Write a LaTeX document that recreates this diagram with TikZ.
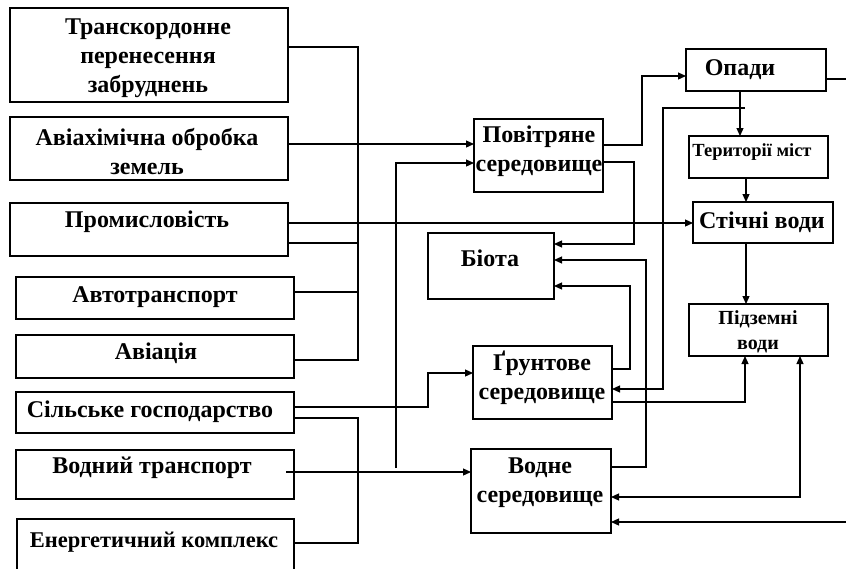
\documentclass[tikz,border=0pt]{standalone}
\usepackage{fontspec}
\setmainfont{Liberation Serif}
\usetikzlibrary{arrows.meta}

\begin{document}
\begin{tikzpicture}[x=1pt, y=-1pt,
    box/.style={draw, line width=1.6pt, inner sep=0pt, outer sep=0pt},
    txt/.style={font=\bfseries\fontsize{24}{29}\selectfont, align=center, inner sep=0pt},
    smalltxt/.style={font=\bfseries\fontsize{20}{25}\selectfont, align=center, inner sep=0pt},
    line/.style={line width=1.2pt},
    arr/.style={line width=1.2pt, -{Triangle[length=8pt,width=7pt]}},
    arrboth/.style={line width=1.2pt, {Triangle[length=8pt,width=7pt]}-{Triangle[length=8pt,width=7pt]}}]
    \useasboundingbox (0,0) rectangle (846,568);

    % Sources (left column)
    \node[box, minimum width=278pt, minimum height=94pt] (trans) at (149,55) {};
    \node[box, minimum width=278pt, minimum height=63pt] (aviachem) at (149,148.5) {};
    \node[box, minimum width=278pt, minimum height=53pt] (prom) at (149,229.5) {};
    \node[box, minimum width=278pt, minimum height=42pt] (avto) at (155,298) {};
    \node[box, minimum width=278pt, minimum height=43pt] (aviat) at (155,356.5) {};
    \node[box, minimum width=278pt, minimum height=41pt] (silske) at (155,412.5) {};
    \node[box, minimum width=278pt, minimum height=49pt] (vodtr) at (155,474.5) {};
    \node[box, minimum width=277pt, minimum height=51pt] (energ) at (155.5,544.5) {};

    \node[txt] (transT) at (148,58) {Транскордонне\\перенесення\\забруднень};
    \node[txt] (aviachemT) at (147,152) {Авіахімічна обробка\\земель};
    \node[txt] (promT) at (147,222) {Промисловість};
    \node[txt] (avtoT) at (155,297) {Автотранспорт};
    \node[txt] (aviatT) at (156,353) {Авіація};
    \node[txt] (silskeT) at (150,412) {Сільське господарство};
    \node[txt] (vodtrT) at (152,468) {Водний транспорт};
    \node[txt, font=\bfseries\fontsize{22.5}{27}\selectfont] (energT) at (154,542) {Енергетичний комплекс};

    % Environments (middle column)
    \node[box, minimum width=129pt, minimum height=73pt] (povitria) at (538.5,155.5) {};
    \node[box, minimum width=126pt, minimum height=66pt] (biota) at (491,266) {};
    \node[box, minimum width=139pt, minimum height=73pt] (gruntove) at (542.5,382.5) {};
    \node[box, minimum width=140pt, minimum height=84pt] (vodne) at (541,491) {};

    \node[txt] (povitriaT) at (539,151) {Повітряне\\середовище};
    \node[txt] (biotaT) at (490,258) {Біота};
    \node[txt] (gruntoveT) at (542,378) {Ґрунтове\\середовище};
    \node[txt] (vodneT) at (540,483) {Водне\\середовище};

    % Water chain (right column)
    \node[box, minimum width=140pt, minimum height=42pt] (opady) at (756,70) {};
    \node[box, minimum width=139pt, minimum height=42pt] (teryt) at (758.5,157) {};
    \node[box, minimum width=140pt, minimum height=41pt] (stichni) at (763,222.5) {};
    \node[box, minimum width=139pt, minimum height=52pt] (pidzem) at (758.5,330) {};

    \node[txt] (opadyT) at (740,70) {Опади};
    \node[font=\bfseries\fontsize{18.5}{20}\selectfont, inner sep=0pt] (terytT) at (752,152) {Території міст};
    \node[txt] (stichniT) at (762,222) {Стічні води};
    \node[smalltxt] (pidzemT) at (758,332) {Підземні\\води};

    % Collecting line of the sources
    \coordinate (busS) at (358,360);
    \draw[line] ([yshift=8pt]trans.east) -| (busS) -- (aviat.east |- busS);
    \draw[line] ([yshift=6pt]avto.east) -| (busS);
    \draw[line] ([yshift=-13.5pt]prom.east) -| (busS);
    \draw[arr] ([yshift=4.5pt]aviachem.east) -- ([yshift=11.5pt]povitria.west);
    \draw[arr] ([yshift=6.5pt]prom.east) -- ([yshift=-0.5pt]stichni.west);

    % Agriculture, water transport and energy
    \draw[arr] ([yshift=5.5pt]silske.east) -- ++(134,0) |- ([yshift=9.5pt]gruntove.west);
    \draw[line] ([yshift=-5.5pt]silske.east) -- ++(64,0) |- ([yshift=1.5pt]energ.east);
    \draw[arr] ([xshift=-8pt,yshift=2.5pt]vodtr.east) -- ([yshift=19pt]vodne.west);
    \draw[arr] ([yshift=2.5pt]vodtr.east) ++(102,-4) |- ([yshift=-7.5pt]povitria.west);

    % Links between the environments
    \draw[arr] ([yshift=10.5pt]povitria.east) -- ++(39,0) |- ([yshift=-6pt]opady.west);
    \draw[arr] ([yshift=-6.5pt]povitria.east) -- ++(31,0) |- ([yshift=22pt]biota.east);
    \draw[arr] ([xshift=-16pt]opady.south) -- ([xshift=-18.5pt]teryt.north);
    \draw[arr] ([xshift=-11pt]opady.south) ++(0,17) -- ++(-82,0) |- ([yshift=-6.5pt]gruntove.east);
    \draw[arr] ([yshift=-9pt]opady.east) -- ++(30,0) |- ([yshift=-31pt]vodne.east);
    \draw[arr] ([xshift=-12.5pt]teryt.south) -- ([xshift=-17pt]stichni.north);
    \draw[arr] ([xshift=-17pt]stichni.south) -- ([xshift=-12.5pt]pidzem.north);
    \draw[arr] ([yshift=24pt]vodne.east) -- ++(35,0) |- ([yshift=6pt]biota.east);
    \draw[arr] ([yshift=13.5pt]gruntove.east) -- ++(18,0) |- ([yshift=-20pt]biota.east);
    \draw[arr] ([yshift=-19.5pt]gruntove.east) -| ([xshift=-13.5pt]pidzem.south);
    \draw[arrboth] ([yshift=-6pt]vodne.east) -| ([xshift=41.5pt]pidzem.south);
\end{tikzpicture}
\end{document}
